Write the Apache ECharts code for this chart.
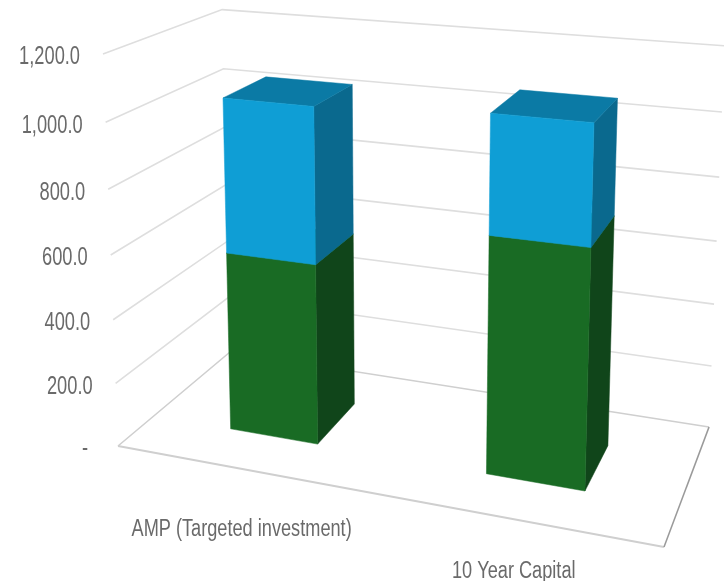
<!DOCTYPE html>
<html>
<head>
<meta charset="utf-8">
<script src="https://cdn.jsdelivr.net/npm/echarts@6/dist/echarts.min.js"></script>
<style>
  html, body { margin: 0; padding: 0; background: #fff; }
  #main { width: 724px; height: 581px; }
</style>
</head>
<body>
<div id="main"></div>
<script>
const categories = ['AMP (Targeted investment)', '10 Year Capital'];
const greenValues = [566, 720];
const blueValues = [478, 352];
const yTicks = [0, 200, 400, 600, 800, 1000, 1200];

const font = '"Liberation Sans", sans-serif';
const textColor = '#6a6a6a';

// screen position of the chart box corners, u = across, w = depth, v = height
const origin = [118, 446];
const cornerU = [664, 547];
const cornerW = [230, 352];
const cornerV = [103, 54];
const persp = [-0.122, 0.1513, -0.05];

function project(u, w, v) {
  const d = 1 + persp[0] * u + persp[1] * w + persp[2] * v;
  const out = [];
  for (let i = 0; i < 2; i++) {
    const a = cornerU[i] * (1 + persp[0]) - origin[i];
    const b = cornerW[i] * (1 + persp[1]) - origin[i];
    const c = cornerV[i] * (1 + persp[2]) - origin[i];
    out.push((origin[i] + a * u + b * w + c * v) / d);
  }
  return out;
}

// turn a pixel from the (hidden) cartesian axes into box coordinates
function toBox(params, api, cat, val) {
  const rect = params.coordSys;
  const p = api.coord([cat, val]);
  return [(p[0] - rect.x) / rect.width, (rect.y + rect.height - p[1]) / rect.height];
}

function face(points, color) {
  return {
    type: 'polygon',
    shape: { points: points },
    style: { fill: color, stroke: color, lineWidth: 0.5 }
  };
}

function renderWalls(params, api) {
  const val = api.value(0);
  const v = toBox(params, api, 0, val)[1];
  const front = project(0, 0, v);
  const children = [{
    type: 'polyline',
    shape: { points: [front, project(0, 1, v), project(1, 1, v)] },
    style: { fill: 'none', stroke: val === 0 ? '#cfcfcf' : '#dedede', lineWidth: 1.6 }
  }];
  if (val === 0) {
    children.push({
      type: 'polyline',
      shape: { points: [front, project(1, 0, 0)] },
      style: { fill: 'none', stroke: '#cfcfcf', lineWidth: 2 }
    });
    children.push({
      type: 'polyline',
      shape: { points: [project(1, 0, 0), project(1, 1, 0)] },
      style: { fill: 'none', stroke: '#9a9a9a', lineWidth: 1.6 }
    });
  }
  const label = val === 0 ? '-' : val.toLocaleString('en-US', { minimumFractionDigits: 1 });
  children.push({
    type: 'text',
    x: front[0] - (val === 0 ? 30 : 23),
    y: front[1] + 3.5,
    scaleX: 0.73,
    style: {
      text: label,
      align: 'right',
      verticalAlign: 'middle',
      fontFamily: font,
      fontSize: 25,
      fill: textColor
    }
  });
  return { type: 'group', children: children };
}

function renderBar(params, api) {
  const cat = api.value(0);
  const rect = params.coordSys;
  const mid = toBox(params, api, cat, 0)[0];
  const half = api.size([1, 0])[0] / rect.width * 0.354 / 2;
  const v0 = toBox(params, api, cat, api.value(1))[1];
  const v1 = toBox(params, api, cat, api.value(2))[1];
  const u0 = mid - half, u1 = mid + half;
  const w0 = 0.295, w1 = 0.69;
  const colors = params.seriesIndex === 2
    ? ['#196b24', '#10451a', '#196b24']
    : ['#0f9ed5', '#0a698e', '#0b7aa5'];
  return {
    type: 'group',
    children: [
      face([project(u1, w0, v0), project(u1, w1, v0), project(u1, w1, v1), project(u1, w0, v1)], colors[1]),
      face([project(u0, w0, v1), project(u1, w0, v1), project(u1, w1, v1), project(u0, w1, v1)], colors[2]),
      face([project(u0, w0, v0), project(u1, w0, v0), project(u1, w0, v1), project(u0, w0, v1)], colors[0])
    ]
  };
}

function renderCategory(params, api) {
  const cat = api.value(0);
  const p = project(toBox(params, api, cat, 0)[0], 0, 0);
  return {
    type: 'text',
    x: p[0],
    y: p[1] + (cat === 0 ? 61 : 52),
    scaleX: 0.79,
    style: {
      text: categories[cat],
      align: 'center',
      verticalAlign: 'middle',
      fontFamily: font,
      fontSize: 23,
      fill: textColor
    }
  };
}

const chart = echarts.init(document.getElementById('main'), null, { renderer: 'canvas' });
chart.setOption({
  animation: false,
  grid: { left: 0, right: 0, top: 0, bottom: 0 },
  xAxis: { type: 'category', data: categories, show: false },
  yAxis: { type: 'value', min: 0, max: 1200, interval: 200, show: false },
  tooltip: { show: false },
  series: [
    { type: 'custom', name: 'walls', clip: false, silent: true, renderItem: renderWalls, data: yTicks.map(t => [t]), encode: { y: 0 } },
    { type: 'custom', name: 'categories', clip: false, silent: true, renderItem: renderCategory, data: categories.map((c, i) => [i]), encode: { x: 0 } },
    { type: 'custom', name: 'Green', clip: false, silent: true, renderItem: renderBar, encode: { x: 0, y: [1, 2] },
      data: greenValues.map((g, i) => [i, 0, g]) },
    { type: 'custom', name: 'Blue', clip: false, silent: true, renderItem: renderBar, encode: { x: 0, y: [1, 2] },
      data: blueValues.map((b, i) => [i, greenValues[i], greenValues[i] + b]) }
  ]
});
</script>
</body>
</html>
